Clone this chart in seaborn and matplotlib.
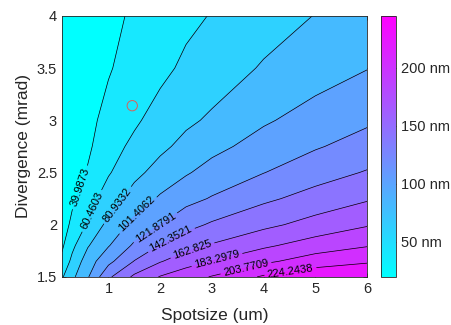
import numpy as np
import pandas as pd
import matplotlib
matplotlib.use("Agg")
import matplotlib.pyplot as plt
from matplotlib.colors import Normalize
from matplotlib.cm import ScalarMappable
import seaborn as sns

# grid
spotsize = [0.1, 0.3, 0.6, 1.0, 1.5, 2.0, 2.5, 3.0, 4.0, 5.0, 6.0]      # um
divergence = [1.5, 1.65, 1.8, 2.0, 2.25, 2.5, 2.75, 3.0, 3.5, 4.0]      # mrad
resolution = [                                                          # nm, one row per divergence
    [58.0, 76.5, 99.5, 138.8, 166.9, 184.5, 195.2, 205.0, 227.0, 239.0, 244.7],
    [44.7, 65.6, 91.4, 116.2, 143.1, 161.3, 174.5, 183.7, 199.4, 214.0, 221.4],
    [36.7, 55.9, 79.3, 100.1, 125.4, 143.5, 155.8, 164.7, 179.9, 192.8, 202.4],
    [30.2, 44.5, 62.9, 86.9, 107.4, 121.9, 135.7, 145.0, 157.9, 170.3, 181.5],
    [25.7, 36.5, 51.6, 71.0, 89.5, 104.2, 115.5, 123.4, 138.5, 149.9, 160.6],
    [23.2, 33.0, 41.6, 58.6, 75.7, 88.4, 99.4, 108.8, 121.4, 133.9, 143.8],
    [21.8, 30.5, 36.5, 52.8, 64.8, 76.6, 86.6, 95.7, 109.5, 120.0, 130.1],
    [20.9, 28.5, 34.0, 47.0, 57.5, 68.2, 77.3, 83.9, 98.9, 109.7, 118.7],
    [19.9, 25.5, 31.0, 38.0, 50.0, 55.5, 64.3, 70.5, 82.8, 92.0, 100.8],
    [19.6, 23.5, 29.0, 35.0, 42.8, 49.5, 55.8, 61.5, 72.0, 81.5, 88.0],
]
levels = [19.5143, 39.9873, 60.4603, 80.9332, 101.4062, 121.8791,
          142.3521, 162.825, 183.2979, 203.7709, 224.2438, 244.7167]
cbar_ticks = [50, 100, 150, 200]
cbar_labels = ["50 nm", "100 nm", "150 nm", "200 nm"]
marker = pd.DataFrame({"spotsize": [1.46], "divergence": [3.14]})

# where the inline labels sit
label_spots = [(0.49, 2.35), (0.69, 2.13), (1.14, 2.20), (1.55, 2.10), (1.91, 1.97),
               (2.20, 1.87), (2.62, 1.76), (3.10, 1.66), (3.66, 1.58), (4.52, 1.55)]

sns.set_style("ticks")
plt.rcParams["font.family"] = ["Liberation Sans", "DejaVu Sans"]
ink = "#262626"
plt.rcParams.update({
    "axes.edgecolor": ink, "axes.labelcolor": ink, "xtick.color": ink, "ytick.color": ink,
    "axes.linewidth": 0.6,
})

fig = plt.figure(figsize=(4.52, 3.25), dpi=100)
ax = fig.add_axes([0.137, 0.148, 0.675, 0.803])
cax = fig.add_axes([0.843, 0.148, 0.034, 0.803])

cmap = plt.get_cmap("cool")
norm = Normalize(levels[0], levels[-1])
fill_colors = [cmap(norm(v)) for v in levels[:-1]]

ax.contourf(spotsize, divergence, resolution, levels=levels, colors=fill_colors)
lines = ax.contour(spotsize, divergence, resolution, levels=levels[1:-1],
                   colors="black", linewidths=0.5)
ax.clabel(lines, fmt=lambda v: f"{v:.7g}", manual=label_spots, inline=True,
          fontsize=8, inline_spacing=3)

sns.scatterplot(data=marker, x="spotsize", y="divergence", ax=ax, marker="o",
                s=55, facecolor="none", edgecolor="#d9605a", linewidth=0.7, zorder=5)

ax.set_xlim(0.1, 6)
ax.set_ylim(1.5, 4)
ax.set_xticks([1, 2, 3, 4, 5, 6])
ax.set_yticks([1.5, 2, 2.5, 3, 3.5, 4])
ax.set_yticklabels(["1.5", "2", "2.5", "3", "3.5", "4"])
ax.tick_params(direction="in", length=3, width=0.5, top=True, right=True, labelsize=10.5)
ax.set_xlabel("Spotsize (um)", fontsize=12.5, labelpad=9)
ax.set_ylabel("Divergence (mrad)", fontsize=12.5, labelpad=4)

cb = fig.colorbar(ScalarMappable(norm=norm, cmap=cmap), cax=cax, ticks=cbar_ticks)
cb.set_ticklabels(cbar_labels)
cb.outline.set_edgecolor(ink)
cb.outline.set_linewidth(0.6)
cax.tick_params(direction="in", length=3, width=0.5, labelsize=10.5, colors=ink)

fig.savefig("out.png", dpi=100)
